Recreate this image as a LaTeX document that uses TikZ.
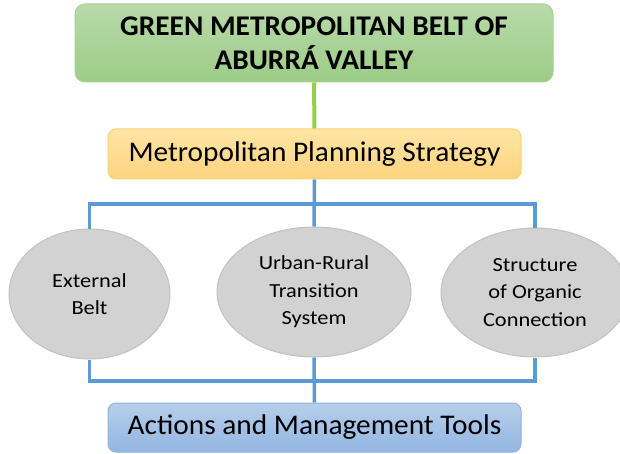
\documentclass[tikz,border=0pt]{standalone}
\usepackage{fontspec}
\setmainfont{Carlito}
\newfontfamily\boxfont[FakeStretch=1.03]{Carlito}
\newfontfamily\ovalfont[FakeStretch=1.12]{Carlito}
\usetikzlibrary{positioning,shapes.geometric}
\definecolor{beltgreen}{HTML}{A6D394}
\definecolor{beltgreentop}{HTML}{B8DAA9}
\definecolor{beltgreenbot}{HTML}{9DCC87}
\definecolor{planorange}{HTML}{FBD36E}
\definecolor{planorangetop}{HTML}{FEE5A4}
\definecolor{planorangebot}{HTML}{FDD37F}
\definecolor{toolblue}{HTML}{8FB2DF}
\definecolor{toolbluetop}{HTML}{B6CEEB}
\definecolor{toolbluebot}{HTML}{93B6E2}
\definecolor{linkblue}{HTML}{5B9BD5}
\definecolor{linkgreen}{HTML}{92D050}
\definecolor{ovalgray}{HTML}{D2D2D2}
\definecolor{ovaledge}{HTML}{C2C2C2}

\begin{document}
\begin{tikzpicture}[x=1pt, y=-1pt,
    every node/.style={inner sep=0pt, align=center, text=black},
    beltbox/.style={draw=beltgreen, top color=beltgreentop, bottom color=beltgreenbot, rounded corners=10pt, line width=1pt, minimum width=478pt, minimum height=78pt, font={\boxfont\fontsize{28.5}{34}\selectfont\bfseries}},
    planbox/.style={draw=planorange, top color=planorangetop, bottom color=planorangebot, rounded corners=8pt, line width=1pt, minimum width=413pt, minimum height=50pt, font={\boxfont\fontsize{28.5}{34}\selectfont}},
    toolbox/.style={draw=toolblue, top color=toolbluetop, bottom color=toolbluebot, rounded corners=8pt, line width=1pt, minimum width=413pt, minimum height=49pt, font={\boxfont\fontsize{28.5}{34}\selectfont}},
    oval/.style={ellipse, draw=ovaledge, fill=ovalgray, line width=1pt, font={\ovalfont\fontsize{20}{27.5}\selectfont}},
    bluelink/.style={draw=linkblue, line width=3.5pt},
    greenlink/.style={draw=linkgreen, line width=4pt}]
    \clip (0,0) rectangle (620,454);

    \node[beltbox] (belt) at (314,43) {GREEN METROPOLITAN BELT OF\\ABURRÁ VALLEY};
    \node[planbox] (strategy) at (314.5,154) {Metropolitan Planning Strategy};
    \node[toolbox] (tools) at (314.5,427.5) {Actions and Management Tools};

    \node[oval, minimum width=161pt, minimum height=130pt] (external) at (89.5,294) {External\\Belt};
    \node[oval, minimum width=194pt, minimum height=130pt] (transition) at (314,292) {Urban-Rural\\Transition\\System};
    \node[oval, minimum width=188pt, minimum height=129pt] (organic) at (535,292.5) {Structure\\of Organic\\Connection};

    \coordinate (topbar) at (314,204);
    \coordinate (lowbar) at (314,381);

    \draw[greenlink] (belt.south) -- (strategy.north);
    \draw[bluelink] (strategy.south) -- (transition.north);
    \draw[bluelink] (external.north) |- (topbar) -| (organic.north);
    \draw[bluelink] (external.south) |- (lowbar) -| (organic.south);
    \draw[bluelink] (transition.south) -- (tools.north);
\end{tikzpicture}
\end{document}
